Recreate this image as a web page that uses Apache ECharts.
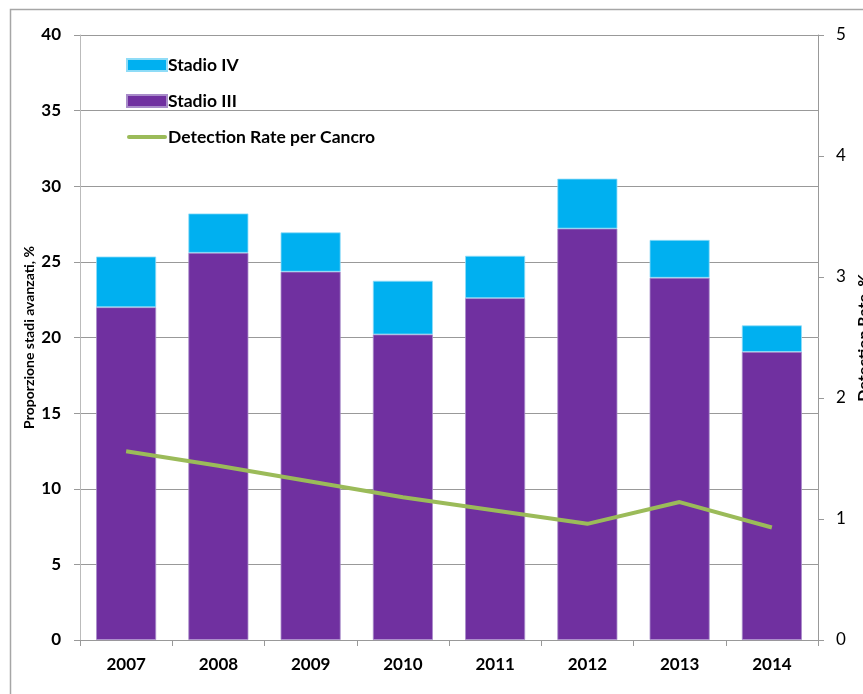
<!DOCTYPE html>
<html>
<head>
<meta charset="utf-8">
<script src="https://cdn.jsdelivr.net/npm/echarts@6/dist/echarts.min.js"></script>
<style>html,body{margin:0;padding:0;background:#fff;}#c{width:863px;height:694px;}</style>
</head>
<body>
<div id="c"></div>
<script>
const years = ['2007','2008','2009','2010','2011','2012','2013','2014'];
const stadioIII = [22.0, 25.6, 24.35, 20.2, 22.6, 27.2, 23.95, 19.05];
const stadioIV = [3.35, 2.6, 2.6, 3.55, 2.8, 3.3, 2.5, 1.75];
const detectionRate = [1.56, 1.44, 1.31, 1.18, 1.07, 0.96, 1.14, 0.93];
const leftTicks = {min: 0, max: 40, interval: 5};
const rightTicks = {min: 0, max: 5, interval: 1};

const FONT = 'Lato';
const chart = echarts.init(document.getElementById('c'), null, {renderer: 'canvas'});
chart.setOption({
  animation: false,
  backgroundColor: '#fff',
  textStyle: {fontFamily: FONT},
  graphic: [{
    type: 'polyline', silent: true,
    shape: {points: [[10.5, 700], [10.5, 9.5], [870, 9.5]]},
    style: {stroke: '#a6a6a6', lineWidth: 1.5, fill: null}
  }],
  grid: {left: 80, right: 45, top: 35, bottom: 54, containLabel: false, outerBoundsMode: 'none'},
  legend: {
    orient: 'vertical', left: 126, top: 56, padding: 0, itemWidth: 40, itemHeight: 12, itemGap: 18,
    textStyle: {fontFamily: FONT, fontWeight: 'bold', fontSize: 17.5, color: '#000', padding: [0,0,0,-4]},
    data: [
      {name: 'Stadio IV', icon: 'rect'},
      {name: 'Stadio III', icon: 'rect'},
      {name: 'Detection Rate per Cancro', icon: 'path://M2,0 L38,0 A2,2 0 0 1 38,4 L2,4 A2,2 0 0 1 2,0 Z', itemStyle: {color: '#9BBB59'}}
    ]
  },
  xAxis: {
    type: 'category', data: years, boundaryGap: true,
    axisLine: {lineStyle: {color: '#999', width: 1}},
    axisTick: {show: true, length: 6, lineStyle: {color: '#999'}},
    axisLabel: {fontFamily: FONT, fontWeight: 'bold', fontSize: 17, color: '#000', margin: 16}
  },
  yAxis: [{
    type: 'value', min: leftTicks.min, max: leftTicks.max, interval: leftTicks.interval,
    name: 'Proporzione stadi avanzati, %', nameLocation: 'middle', nameGap: 44, nameRotate: 90,
    nameMoveOverlap: false,
    nameTextStyle: {fontFamily: FONT, fontWeight: 'bold', fontSize: 14, color: '#000'},
    axisLine: {show: true, lineStyle: {color: '#bbb'}},
    axisTick: {show: true, length: 6, lineStyle: {color: '#999'}},
    axisLabel: {fontFamily: FONT, fontWeight: 'bold', fontSize: 17, color: '#000', margin: 19},
    splitLine: {show: true, lineStyle: {color: '#999', width: 1}}
  }, {
    type: 'value', position: 'right', min: rightTicks.min, max: rightTicks.max, interval: rightTicks.interval,
    name: 'Detection Rate, %', nameLocation: 'middle', nameGap: 38, nameRotate: 90,
    nameMoveOverlap: false,
    nameTextStyle: {fontFamily: FONT, fontWeight: 'bold', fontSize: 16, color: '#000'},
    axisLine: {show: true, lineStyle: {color: '#999'}},
    axisTick: {show: true, length: 6, lineStyle: {color: '#999'}},
    axisLabel: {fontFamily: FONT, fontSize: 17, color: '#000', margin: 18},
    splitLine: {show: false}
  }],
  series: [{
    name: 'Stadio III', type: 'bar', stack: 'tot', data: stadioIII, barWidth: 60,
    itemStyle: {color: '#7030A0', borderColor: '#a88bc9', borderWidth: 0.8}
  }, {
    name: 'Stadio IV', type: 'bar', stack: 'tot', data: stadioIV, barWidth: 60,
    itemStyle: {color: '#00B0F0', borderColor: '#8fdcf7', borderWidth: 0.8}
  }, {
    name: 'Detection Rate per Cancro', type: 'line', yAxisIndex: 1, data: detectionRate,
    showSymbol: false, symbol: 'none',
    lineStyle: {color: '#9BBB59', width: 4}, itemStyle: {color: '#9BBB59'}
  }]
});
</script>
</body>
</html>
